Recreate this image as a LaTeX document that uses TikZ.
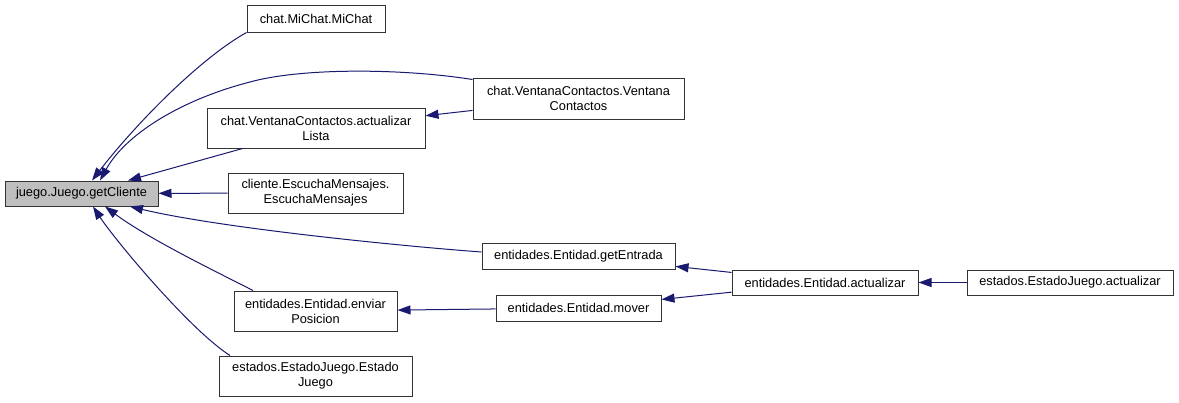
\documentclass[tikz,border=0pt]{standalone}
\usepackage{fontspec}
\setmainfont{Liberation Sans}
\usetikzlibrary{arrows.meta,calc}
\definecolor{edgeblue}{HTML}{191970}
\definecolor{mainfill}{HTML}{BFBFBF}
\definecolor{boxline}{HTML}{333333}
\begin{document}
\begin{tikzpicture}[x=1pt,y=-1pt,
  fn/.style={draw=boxline,line width=1pt,fill=white,inner sep=0pt,align=center,
    font=\fontsize{12.8}{15}\selectfont},
  mainfn/.style={fn,fill=mainfill},
  edge/.style={draw=edgeblue,line width=1pt,-{Triangle[length=13pt,width=9pt]}}]
\useasboundingbox[fill=white] (0,0) rectangle (1179,402);

\node[mainfn,minimum width=153pt,minimum height=25pt] (main) at (81.5,193.5) {juego.Juego.getCliente};
\node[fn,minimum width=138pt,minimum height=27pt] (michat) at (316,18.5) {chat.MiChat.MiChat};
\node[fn,minimum width=211pt,minimum height=41pt] (vc) at (578.5,98.5) {chat.VentanaContactos.Ventana\\Contactos};
\node[fn,minimum width=218pt,minimum height=40pt] (lista) at (316,128) {chat.VentanaContactos.actualizar\\Lista};
\node[fn,minimum width=175pt,minimum height=40pt] (escucha) at (315.5,193) {cliente.EscuchaMensajes.\\EscuchaMensajes};
\node[fn,minimum width=193pt,minimum height=26pt] (getE) at (578.5,256) {entidades.Entidad.getEntrada};
\node[fn,minimum width=163pt,minimum height=40pt] (enviar) at (315.5,311) {entidades.Entidad.enviar\\Posicion};
\node[fn,minimum width=193pt,minimum height=40pt] (ejc) at (315.5,376) {estados.EstadoJuego.Estado\\Juego};
\node[fn,minimum width=165pt,minimum height=26pt] (mover) at (578.5,308) {entidades.Entidad.mover};
\node[fn,minimum width=186pt,minimum height=25pt] (act) at (825,282.5) {entidades.Entidad.actualizar};
\node[fn,minimum width=206pt,minimum height=25pt] (ejact) at (1070,282.5) {estados.EstadoJuego.actualizar};

\draw[edge] (michat.south west) .. controls (199,59) and (134,126) .. ($(main.north)+(10.5,0)$);
\draw[edge] ($(vc.north west)+(0,2)$) .. controls (400,68) and (300,68) .. (250,82)
   .. controls (180,100) and (125,135) .. ($(main.north)+(18.5,0)$);
\draw[edge] (lista) -- (main);
\draw[edge] (escucha) -- (main);
\draw[edge] (vc) -- (lista);
\draw[edge] ($(getE.west)+(0,-4)$) .. controls (400,246) and (220,228) .. ($(main.south)+(48.5,0)$);
\draw[edge] ($(enviar.north)+(-62.5,0)$) .. controls (225,276) and (150,240) .. ($(main.south)+(23.5,0)$);
\draw[edge] ($(ejc.north)+(-85.5,0)$) .. controls (190,330) and (115,240) .. ($(main.south)+(11.5,0)$);
\draw[edge] (mover) -- (enviar);
\draw[edge] (act) -- (getE);
\draw[edge] (act) -- (mover);
\draw[edge] (ejact) -- (act);
\end{tikzpicture}
\end{document}
